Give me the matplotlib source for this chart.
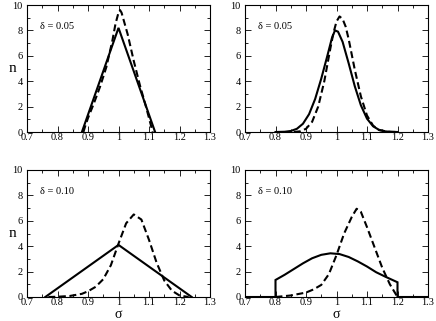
import matplotlib
matplotlib.use("Agg")
import matplotlib.pyplot as plt
from matplotlib.ticker import MultipleLocator, FuncFormatter

plt.rcParams['font.family'] = ['Liberation Serif', 'DejaVu Serif']
plt.rcParams['lines.scale_dashes'] = False

# Panel (a): delta = 0.05, triangle
tl_solid_x = [0.88, 1.0, 1.12]
tl_solid_y = [0.0, 8.2, 0.0]
tl_dash_x = [0.885, 0.89, 0.90, 0.92, 0.94, 0.96, 0.98, 0.99, 1.0, 1.005, 1.01, 1.03, 1.05, 1.07, 1.09, 1.10, 1.112]
tl_dash_y = [0.0, 0.4, 1.1, 2.3, 3.6, 5.1, 7.2, 8.5, 9.4, 9.6, 9.4, 7.7, 5.6, 3.7, 2.0, 1.1, 0.0]

# Panel (b): delta = 0.05, gaussian
tr_solid_x = [0.80, 0.83, 0.85, 0.87, 0.89, 0.91, 0.93, 0.95, 0.97, 0.985, 0.995, 1.005, 1.02, 1.04, 1.06, 1.08, 1.10, 1.12, 1.14, 1.16, 1.18, 1.20]
tr_solid_y = [0.0, 0.02, 0.08, 0.25, 0.65, 1.4, 2.6, 4.2, 6.0, 7.4, 8.0, 7.9, 7.1, 5.4, 3.6, 2.1, 1.05, 0.45, 0.16, 0.05, 0.01, 0.0]
tr_dash_x = [0.86, 0.88, 0.90, 0.92, 0.94, 0.96, 0.98, 0.99, 1.0, 1.01, 1.02, 1.03, 1.04, 1.06, 1.08, 1.10, 1.12, 1.14, 1.17, 1.20]
tr_dash_y = [0.0, 0.05, 0.25, 0.8, 2.0, 4.0, 6.6, 7.8, 8.7, 9.1, 8.9, 8.3, 7.3, 4.9, 2.8, 1.3, 0.5, 0.15, 0.02, 0.0]

# Panel (c): delta = 0.10, triangle
bl_solid_x = [0.76, 1.0, 1.24]
bl_solid_y = [0.0, 4.1, 0.0]
bl_dash_x = [0.77, 0.80, 0.84, 0.88, 0.90, 0.925, 0.95, 0.975, 1.0, 1.025, 1.05, 1.075, 1.10, 1.125, 1.15, 1.175, 1.20, 1.23]
bl_dash_y = [0.0, 0.02, 0.08, 0.25, 0.45, 0.8, 1.4, 2.5, 4.2, 5.8, 6.5, 6.1, 4.5, 2.7, 1.3, 0.5, 0.12, 0.0]

# Panel (d): delta = 0.10, gaussian (truncated)
br_solid_x = [0.70, 0.80, 0.80, 0.83, 0.86, 0.89, 0.92, 0.95, 0.98, 1.01, 1.04, 1.07, 1.10, 1.13, 1.16, 1.20, 1.20, 1.30]
br_solid_y = [0.0, 0.0, 1.34, 1.75, 2.2, 2.65, 3.05, 3.32, 3.44, 3.38, 3.15, 2.8, 2.4, 1.95, 1.6, 1.16, 0.0, 0.0]
br_dash_x = [0.80, 0.85, 0.90, 0.925, 0.95, 0.975, 1.0, 1.025, 1.05, 1.066, 1.08, 1.10, 1.125, 1.15, 1.175, 1.20]
br_dash_y = [0.0, 0.12, 0.35, 0.6, 0.95, 1.8, 3.3, 5.0, 6.3, 6.95, 6.7, 5.5, 3.9, 2.3, 1.0, 0.0]

labels = ["δ = 0.05", "δ = 0.05", "δ = 0.10", "δ = 0.10"]

fig = plt.figure(figsize=(4.36, 3.21), dpi=100)
boxes = [
    [27/436, 1-132/321, 183/436, 127/321],
    [245/436, 1-132/321, 183/436, 127/321],
    [27/436, 1-297/321, 183/436, 127/321],
    [245/436, 1-297/321, 183/436, 127/321],
]
data = [
    (tl_solid_x, tl_solid_y, tl_dash_x, tl_dash_y),
    (tr_solid_x, tr_solid_y, tr_dash_x, tr_dash_y),
    (bl_solid_x, bl_solid_y, bl_dash_x, bl_dash_y),
    (br_solid_x, br_solid_y, br_dash_x, br_dash_y),
]

fmt = FuncFormatter(lambda v, p: "%g" % round(v, 3))

for i, (box, (sx, sy, dx, dy)) in enumerate(zip(boxes, data)):
    ax = fig.add_axes(box)
    ax.plot(sx, sy, color='black', lw=1.5, solid_joinstyle='miter')
    ax.plot(dx, dy, color='black', lw=1.5, dashes=(5, 2.6))
    ax.set_xlim(0.7, 1.3)
    ax.set_ylim(0, 10)
    ax.xaxis.set_major_locator(MultipleLocator(0.1))
    ax.xaxis.set_minor_locator(MultipleLocator(0.05))
    ax.yaxis.set_major_locator(MultipleLocator(2))
    ax.yaxis.set_minor_locator(MultipleLocator(1))
    ax.xaxis.set_major_formatter(fmt)
    ax.yaxis.set_major_formatter(fmt)
    ax.tick_params(which='both', direction='in', top=True, right=True, labelsize=7.5, width=0.6)
    ax.tick_params(axis='x', pad=1)
    ax.tick_params(axis='y', pad=3)
    ax.tick_params(which='major', length=4)
    ax.tick_params(which='minor', length=2)
    for sp in ax.spines.values():
        sp.set_linewidth(0.8)
    ax.text(0.071, 0.83, labels[i], transform=ax.transAxes, fontsize=7.5, va='center', ha='left')
    if i in (0, 2):
        ax.text(-14.5/183, 0.5, "n", transform=ax.transAxes, fontsize=11, va='center', ha='center')
    if i in (2, 3):
        ax.text(0.5, -17.5/127, "σ", transform=ax.transAxes, fontsize=10, va='center', ha='center')

fig.savefig("out.png", dpi=100)
